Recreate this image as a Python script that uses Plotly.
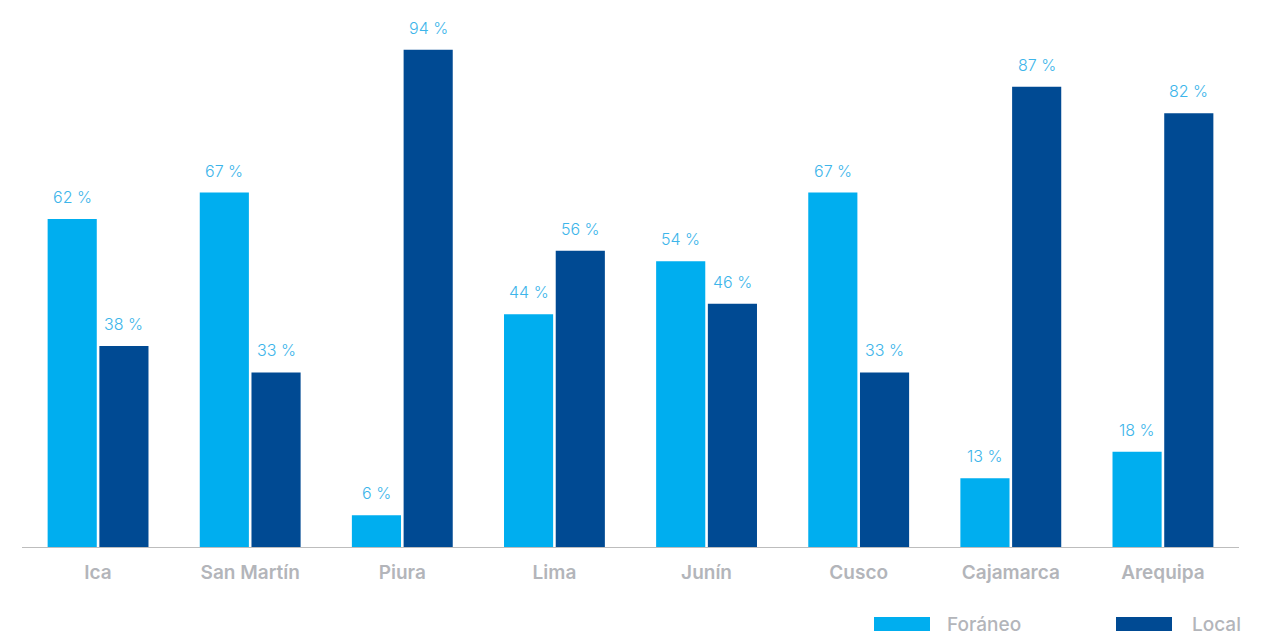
import plotly.graph_objects as go

categories = ["Ica", "San Martín", "Piura", "Lima", "Junín", "Cusco", "Cajamarca", "Arequipa"]
foraneo = [62, 67, 6, 44, 54, 67, 13, 18]
local = [38, 33, 94, 56, 46, 33, 87, 82]
series_names = ["Foráneo", "Local"]
colors = ["#00aeef", "#004a93"]

W, H = 1261, 636
PLOT_BOTTOM = 547
BARGAP = 0.32

fig = go.Figure()
for name, vals, col in zip(series_names, [foraneo, local], colors):
    fig.add_trace(go.Bar(
        x=categories, y=vals, name=name, marker_color=col, marker_line_width=0,
        showlegend=False,
    ))

# value labels placed above each bar (offset by group slot)
slot = (1 - BARGAP) / 2
for k, vals in enumerate([foraneo, local]):
    off = (k - 0.5) * slot
    for i, v in enumerate(vals):
        fig.add_annotation(x=i + off, y=v, xref="x", yref="y", text=f"{v} %",
                           showarrow=False, yshift=22, yanchor="middle",
                           font=dict(family="Inter", size=16, color="#3db5ea", weight=300))

fig.update_layout(
    width=W, height=H,
    margin=dict(l=0, r=0, t=0, b=H - PLOT_BOTTOM),
    paper_bgcolor="white", plot_bgcolor="white",
    barmode="group", bargap=BARGAP, bargroupgap=0.05,
    xaxis=dict(domain=[22 / W, 1239 / W], showline=True, linecolor="#bdbdbd", linewidth=1,
               ticks="", ticklabelstandoff=8,
               tickfont=dict(family="Inter", size=19, color="#b3b5ba", weight=600),
               showgrid=False),
    yaxis=dict(range=[0, 103.4], visible=False, showgrid=False),
)

# custom legend
def py(pix):
    return (PLOT_BOTTOM - pix) / PLOT_BOTTOM

legend_items = [(874, 930, 945), (1116, 1172, 1190)]
for (x0, x1, tx), name, col in zip(legend_items, series_names, colors):
    fig.add_shape(type="rect", xref="paper", yref="paper",
                  x0=x0 / W, x1=x1 / W, y0=py(631), y1=py(617),
                  fillcolor=col, line_width=0)
    fig.add_annotation(x=tx / W, y=py(624), xref="paper", yref="paper",
                       text=name, showarrow=False, xanchor="left", yanchor="middle",
                       font=dict(family="Inter", size=19, color="#b3b5ba", weight=500))

fig.write_html("out.html", config={"displayModeBar": False},
               post_script="document.body.style.margin='0';document.body.style.overflow='hidden';")
